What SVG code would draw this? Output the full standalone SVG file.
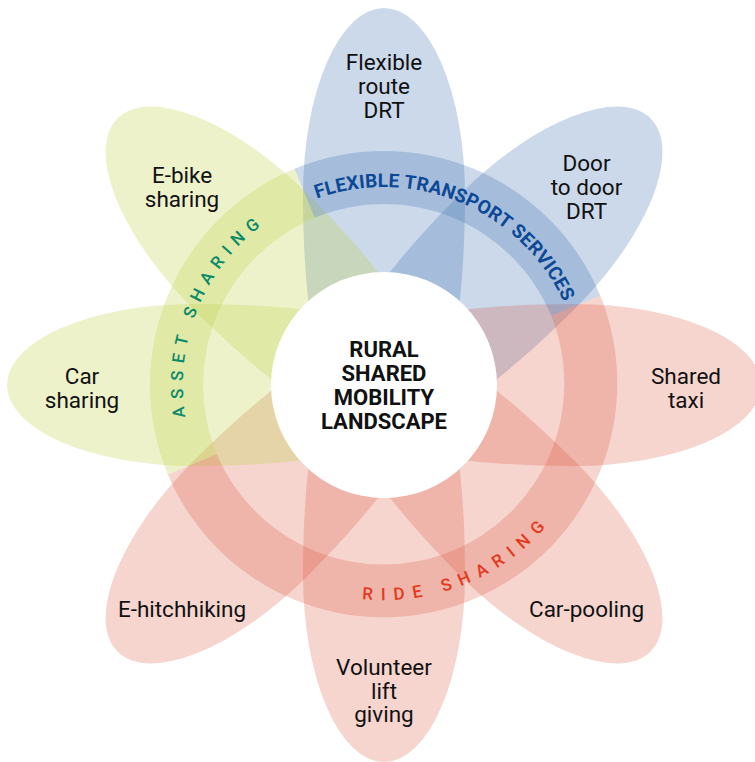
<svg xmlns="http://www.w3.org/2000/svg" xmlns:xlink="http://www.w3.org/1999/xlink" width="755" height="762" viewBox="0 0 755 762">
  <style>
    .blue  { fill: #3e72b1; fill-opacity: 0.27; }
    .green { fill: #c1d24c; fill-opacity: 0.29; }
    .pink  { fill: #da5037; fill-opacity: 0.24; }
    .label { font-family: Roboto, "Liberation Sans", sans-serif; font-size: 22.5px; fill: #111111; text-anchor: middle; }
    .title { font-family: Roboto, "Liberation Sans", sans-serif; font-size: 22px; font-weight: bold; fill: #111111; text-anchor: middle; }
    .arc-text { font-family: Roboto, "Liberation Sans", sans-serif; text-anchor: middle; }
  </style>
  <defs>
    <!-- one petal, pointing up from the hub centre; outer half is an elliptic arc -->
    <path id="petal" d="M 81 -190 A 81 187 0 0 0 -81 -190 C -81 -140 -78 -100 -74 -70 C -68 -20 -30 30 0 30 C 30 30 68 -20 74 -70 C 78 -100 81 -140 81 -190 Z"/>
    <!-- baselines for the curved ring captions (hub centre 384,385) -->
    <path id="arc-fts" d="M 189.7 340.2 A 199 199 0 1 1 551.8 492.0"/>
    <path id="arc-asset" d="M 340.5 581.2 A 201 201 0 1 1 492.0 215.5"/>
    <path id="arc-ride" d="M 174.1 431.5 A 215 215 0 1 0 565.3 269.5"/>
  </defs>

  <rect width="755" height="762" fill="#ffffff"/>

  <!-- petals -->
  <g id="petals" transform="translate(384 385)">
    <g id="flexible-route-drt"><use href="#petal" class="blue"/></g>
    <g id="door-to-door-drt"><use href="#petal" class="blue" transform="rotate(45)"/></g>
    <g id="shared-taxi"><use href="#petal" class="pink" transform="rotate(90)"/></g>
    <g id="car-pooling"><use href="#petal" class="pink" transform="rotate(135)"/></g>
    <g id="volunteer-lift-giving"><use href="#petal" class="pink" transform="rotate(180)"/></g>
    <g id="e-hitchhiking"><use href="#petal" class="pink" transform="rotate(225)"/></g>
    <g id="car-sharing"><use href="#petal" class="green" transform="rotate(270)"/></g>
    <g id="e-bike-sharing"><use href="#petal" class="green" transform="rotate(315)"/></g>
  </g>

  <!-- category ring -->
  <g id="ring">
    <path id="ring-fts" class="blue" d="M 294.5 168.8 A 234 234 0 0 1 600.2 295.5 L 551.2 315.7 A 181 181 0 0 0 314.7 217.8 Z"/>
    <path id="ring-asset" class="green" d="M 167.8 474.5 A 234 234 0 0 1 294.5 168.8 L 314.7 217.8 A 181 181 0 0 0 216.8 454.3 Z"/>
    <path id="ring-ride" class="pink" d="M 600.2 295.5 A 234 234 0 0 1 167.8 474.5 L 216.8 454.3 A 181 181 0 0 0 551.2 315.7 Z"/>
  </g>

  <!-- hub -->
  <g id="hub">
    <circle cx="384" cy="385" r="113" fill="#ffffff"/>
    <text class="title" x="384" y="357">RURAL</text>
    <text class="title" x="384" y="381">SHARED</text>
    <text class="title" x="384" y="405">MOBILITY</text>
    <text class="title" x="384" y="429">LANDSCAPE</text>
  </g>

  <!-- ring captions -->
  <g id="ring-captions">
    <text class="arc-text" font-size="19" font-weight="bold" letter-spacing="0.2" fill="#0c4896"><textPath href="#arc-fts" startOffset="50%">FLEXIBLE TRANSPORT SERVICES</textPath></text>
    <text class="arc-text" font-size="17" font-weight="500" letter-spacing="7.2" fill="#0a8a6a"><textPath href="#arc-asset" startOffset="50%">ASSET SHARING</textPath></text>
    <text class="arc-text" font-size="17" font-weight="500" letter-spacing="8.3" fill="#e4391c"><textPath href="#arc-ride" startOffset="50%">RIDE SHARING</textPath></text>
  </g>

  <!-- petal labels -->
  <g id="labels">
    <text class="label" x="384" y="70">Flexible</text>
    <text class="label" x="384" y="94">route</text>
    <text class="label" x="384" y="117.5">DRT</text>

    <text class="label" x="586.5" y="171">Door</text>
    <text class="label" x="586.5" y="195">to door</text>
    <text class="label" x="586.5" y="218.5">DRT</text>

    <text class="label" x="182" y="182.5">E-bike</text>
    <text class="label" x="182" y="206.5">sharing</text>

    <text class="label" x="82" y="384">Car</text>
    <text class="label" x="82" y="407.5">sharing</text>

    <text class="label" x="686" y="384">Shared</text>
    <text class="label" x="686" y="407.5">taxi</text>

    <text class="label" x="182" y="616.5">E-hitchhiking</text>
    <text class="label" x="586.5" y="616.5">Car-pooling</text>

    <text class="label" x="384" y="675">Volunteer</text>
    <text class="label" x="384" y="698.5">lift</text>
    <text class="label" x="384" y="722">giving</text>
  </g>
</svg>
